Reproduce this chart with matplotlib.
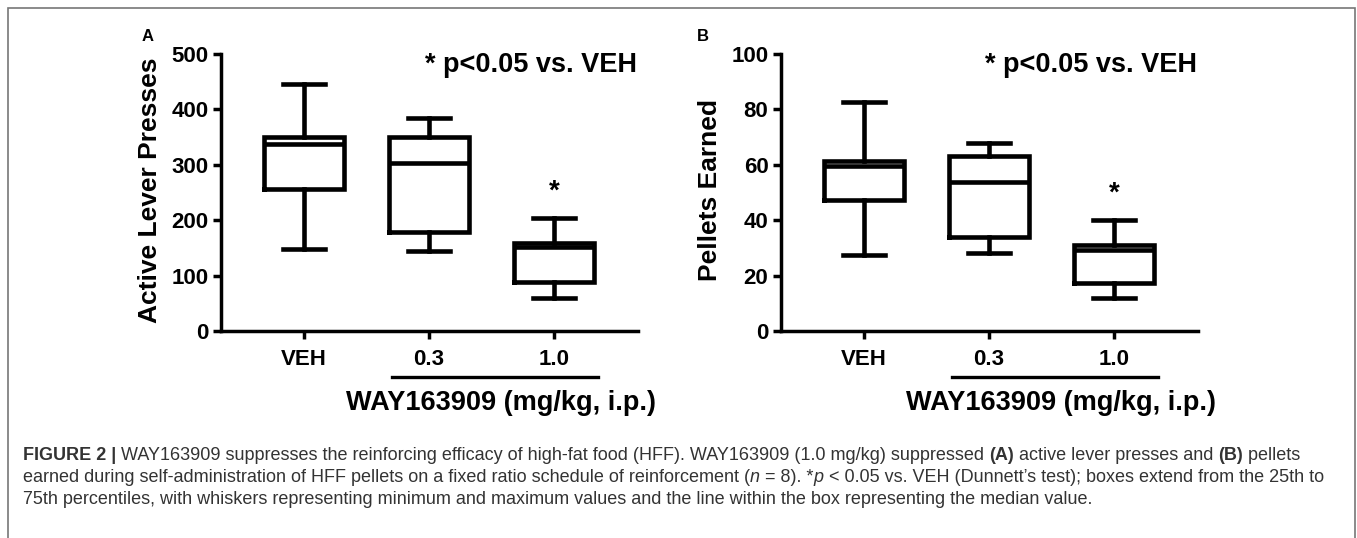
import matplotlib
matplotlib.use('Agg')
import matplotlib.pyplot as plt
from matplotlib.lines import Line2D
from matplotlib.patches import Rectangle
from matplotlib.transforms import blended_transform_factory

plt.rcParams['font.family'] = ['Liberation Sans', 'DejaVu Sans']

# box plot summaries (min, q1, median, q3, max)
groups = ['VEH', '0.3', '1.0']
presses_min = [148, 145, 60]
presses_q1 = [256, 179, 89]
presses_med = [338, 303, 152]
presses_q3 = [350, 350, 159]
presses_max = [446, 385, 204]

pellets_min = [27.4, 28, 12]
pellets_q1 = [47.4, 34, 17.4]
pellets_med = [59.7, 53.7, 29.2]
pellets_q3 = [61.5, 63.3, 30.9]
pellets_max = [82.5, 68, 40]

W, H = 1357, 538
fig = plt.figure(figsize=(W / 100, H / 100), dpi=100)


def fx(x):
    return x / W


def fy(y):
    return 1 - y / H


def make_stats(mins, q1s, meds, q3s, maxs):
    stats = []
    for lo, q1, med, q3, hi in zip(mins, q1s, meds, q3s, maxs):
        stats.append(dict(whislo=lo, q1=q1, med=med, q3=q3, whishi=hi, fliers=[]))
    return stats


def panel(left, stats, ymax, ylabel, letter):
    ax = fig.add_axes([fx(left), fy(331), (638 - 221) / W, (331 - 54) / H])
    lw = 3.3
    ax.bxp(stats, positions=[0, 1, 2], widths=0.64, capwidths=0.33,
           showfliers=False,
           boxprops=dict(color='black', lw=lw, solid_joinstyle='miter'),
           whiskerprops=dict(color='black', lw=lw),
           capprops=dict(color='black', lw=lw),
           medianprops=dict(color='black', lw=lw))
    ax.set_xlim(-0.664, 2.672)
    ax.set_ylim(0, ymax)
    ax.set_yticks([ymax * i / 5 for i in range(6)])
    ax.set_xticks([0, 1, 2])
    ax.set_xticklabels(groups)
    for s in ['top', 'right']:
        ax.spines[s].set_visible(False)
    for s in ['left', 'bottom']:
        ax.spines[s].set_linewidth(2.5)
    ax.tick_params(axis='both', width=2.5, length=6, labelsize=16)
    ax.tick_params(axis='y', pad=3)
    ax.tick_params(axis='x', pad=7)
    for lab in ax.get_xticklabels() + ax.get_yticklabels():
        lab.set_fontweight('bold')

    # underline below the drug doses
    tr = blended_transform_factory(ax.transData, ax.transAxes)
    ax.add_line(Line2D([0.70, 2.35], [-0.166, -0.166], transform=tr,
                       color='black', lw=2.4, clip_on=False))
    # significance asterisk over 1.0
    ax.text(2, stats[2]['whishi'] + ymax * 0.095, '*', ha='center', va='center',
            fontsize=20, fontweight='bold')

    off = left - 221
    fig.text(fx(150 + off), fy(190), ylabel, rotation=90, ha='center',
             va='center', fontsize=19, fontweight='bold')
    fig.text(fx(637 + off), fy(65), '* p<0.05 vs. VEH', ha='right',
             va='center', fontsize=19.5, fontweight='bold')
    fig.text(fx(501 + off), fy(403), 'WAY163909 (mg/kg, i.p.)', ha='center',
             va='center', fontsize=19.5, fontweight='bold')
    fig.text(fx(148 + off * 0.99), fy(37), letter, ha='center', va='center',
             fontsize=12, fontweight='bold')
    return ax


panel(221, make_stats(presses_min, presses_q1, presses_med, presses_q3, presses_max),
      500, 'Active Lever Presses', 'A')
panel(781, make_stats(pellets_min, pellets_q1, pellets_med, pellets_q3, pellets_max),
      100, 'Pellets Earned', 'B')

# frame round the whole figure
fig.add_artist(Rectangle((fx(8), fy(560)), (1355 - 8) / W, (560 - 8) / H,
                         transform=fig.transFigure, fill=False,
                         edgecolor='#777777', lw=1.2))

# caption, drawn as runs of mixed weight / style
caption = [
    [('FIGURE 2 |', 'bold', 'normal'),
     (' WAY163909 suppresses the reinforcing efficacy of high-fat food (HFF). '
      'WAY163909 (1.0 mg/kg) suppressed ', 'normal', 'normal'),
     ('(A)', 'bold', 'normal'),
     (' active lever presses and ', 'normal', 'normal'),
     ('(B)', 'bold', 'normal'),
     (' pellets', 'normal', 'normal')],
    [('earned during self-administration of HFF pellets on a fixed ratio schedule '
      'of reinforcement (', 'normal', 'normal'),
     ('n', 'normal', 'italic'),
     (' = 8). *', 'normal', 'normal'),
     ('p', 'normal', 'italic'),
     (' < 0.05 vs. VEH (Dunnett\u2019s test); boxes extend from the 25th to',
      'normal', 'normal')],
    [('75th percentiles, with whiskers representing minimum and maximum values '
      'and the line within the box representing the median value.',
      'normal', 'normal')],
]
line_y = [456, 478, 500]

renderer = fig.canvas.get_renderer()
for runs, y in zip(caption, line_y):
    x = fx(23)
    for text, weight, style in runs:
        t = fig.text(x, fy(y), text, ha='left', va='center', fontsize=13,
                     fontweight=weight, style=style, color='#333333')
        bb = t.get_window_extent(renderer)
        x = bb.x1 / W

fig.savefig('out.png', dpi=100)
